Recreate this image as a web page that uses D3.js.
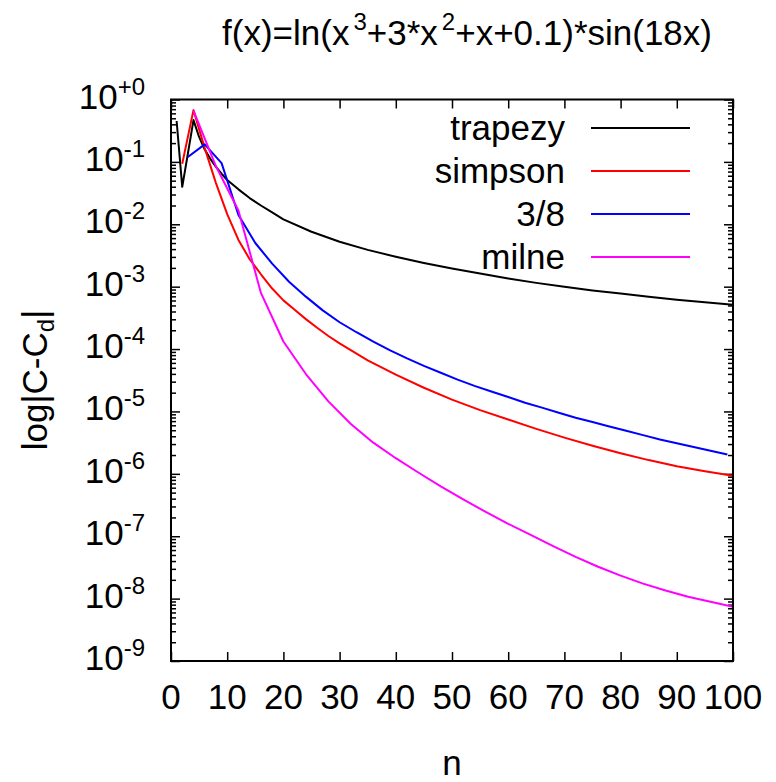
<!DOCTYPE html>
<html>
<head>
<meta charset="utf-8">
<script src="https://cdn.jsdelivr.net/npm/d3@7"></script>
<style>
  html, body { margin: 0; padding: 0; background: #fff; }
  svg { display: block; }
  text { font-family: "Liberation Sans", Arial, Helvetica, sans-serif; fill: #000; }
</style>
</head>
<body>
<div id="chart"></div>
<script>
// ---- data ----
const seriesNames = ["trapezy", "simpson", "3/8", "milne"];
const seriesColors = ["#000000", "#ff0000", "#0000ff", "#ff00ff"];

const trapezyN = [1,2,3,4,5,6,7,8,9,10,12,14,16,18,20,25,30,35,40,45,50,55,60,65,70,75,80,85,90,95,100];
const trapezyV = [0.452,0.0398,0.135,0.468,0.251,0.158,0.112,0.0832,0.0646,0.0513,0.0363,0.0263,0.0200,0.0155,0.0120,0.00759,0.00525,0.00389,0.00302,0.00240,0.00195,0.00162,0.00135,0.00115,0.00100,0.000871,0.000776,0.000692,0.000617,0.000562,0.000513];

const simpsonN = [2,4,6,8,10,12,14,16,18,20,22,24,26,28,30,35,40,45,50,55,60,65,70,75,80,85,90,95,100];
const simpsonV = [0.0933,0.676,0.166,0.0457,0.0145,0.00562,0.00275,0.00158,0.000933,0.000603,0.000427,0.000302,0.000219,0.000162,0.000123,6.61e-5,3.89e-5,2.40e-5,1.55e-5,1.05e-5,7.41e-6,5.25e-6,3.80e-6,2.82e-6,2.14e-6,1.66e-6,1.32e-6,1.10e-6,9.33e-7];

const threeEighthsN = [3,6,9,12,15,18,21,24,27,30,33,36,39,42,45,48,51,54,57,60,63,66,69,72,75,78,81,84,87,90,93,96,99];
const threeEighthsV = [0.120,0.191,0.0955,0.0141,0.00501,0.00234,0.00120,0.000692,0.000417,0.000269,0.000186,0.000132,9.55e-5,7.08e-5,5.37e-5,4.17e-5,3.24e-5,2.57e-5,2.09e-5,1.70e-5,1.38e-5,1.15e-5,9.55e-6,7.94e-6,6.76e-6,5.75e-6,4.90e-6,4.17e-6,3.55e-6,3.09e-6,2.69e-6,2.34e-6,2.04e-6];

const milneN = [4,8,12,16,20,24,28,32,36,40,44,48,52,56,60,64,68,72,76,80,84,88,92,96,100];
const milneV = [0.661,0.0851,0.0166,0.000794,0.000132,3.98e-5,1.45e-5,6.31e-6,3.16e-6,1.78e-6,1.05e-6,6.31e-7,3.89e-7,2.45e-7,1.58e-7,1.05e-7,6.92e-8,4.68e-8,3.24e-8,2.34e-8,1.74e-8,1.35e-8,1.07e-8,8.91e-9,7.41e-9];

const xTicks = [0,10,20,30,40,50,60,70,80,90,100];
const yExponents = [0,-1,-2,-3,-4,-5,-6,-7,-8,-9];
const yTickLabels = ["+0","-1","-2","-3","-4","-5","-6","-7","-8","-9"];
const titleParts = [["f(x)=ln(x",false],["3",true],["+3*x",false],["2",true],["+x+0.1)*sin(18x)",false]];
const xLabel = "n";

// ---- layout ----
const W = 776, H = 782;
const L = 171, R = 733, T = 99.5, B = 661;
const FONT = 35, SUP = 24;

const svg = d3.select("#chart").append("svg").attr("width", W).attr("height", H);

const x = d3.scaleLinear().domain([0, 100]).range([L, R]);
const y = d3.scaleLog().domain([1e-9, 1]).range([B, T]);

const majors = yExponents.map(e => Math.pow(10, e));
const minors = [];
for (let e = -9; e < 0; e++) for (let k = 2; k <= 9; k++) minors.push(k * Math.pow(10, e));

function styleAxis(g) {
  g.select(".domain").remove();
  g.selectAll("line").attr("stroke", "#000").attr("stroke-width", 1.5);
  g.selectAll("text").remove();
}

svg.append("g").attr("transform", `translate(0,${B})`)
  .call(d3.axisBottom(x).tickValues(xTicks).tickSize(-9).tickFormat("")).call(styleAxis);
svg.append("g").attr("transform", `translate(0,${T})`)
  .call(d3.axisTop(x).tickValues(xTicks).tickSize(-9).tickFormat("")).call(styleAxis);
svg.append("g").attr("transform", `translate(${L},0)`)
  .call(d3.axisLeft(y).tickValues(majors).tickSize(-9).tickFormat("")).call(styleAxis);
svg.append("g").attr("transform", `translate(${L},0)`)
  .call(d3.axisLeft(y).tickValues(minors).tickSize(-5).tickFormat("")).call(styleAxis);
svg.append("g").attr("transform", `translate(${R},0)`)
  .call(d3.axisRight(y).tickValues(majors).tickSize(-9).tickFormat("")).call(styleAxis);
svg.append("g").attr("transform", `translate(${R},0)`)
  .call(d3.axisRight(y).tickValues(minors).tickSize(-5).tickFormat("")).call(styleAxis);

// x tick labels
svg.append("g").selectAll("text").data(xTicks).join("text")
  .attr("x", d => x(d)).attr("y", 709)
  .attr("text-anchor", "middle").attr("font-size", FONT)
  .text(d => d);

// y tick labels
const yl = svg.append("g").selectAll("text").data(yExponents).join("text")
  .attr("x", 145).attr("y", d => y(Math.pow(10, d)) + 9)
  .attr("text-anchor", "end").attr("font-size", FONT);
yl.append("tspan").text("10");
yl.append("tspan").attr("font-size", SUP).attr("dy", -14).text((d, i) => yTickLabels[i]);

// series lines
const series = [
  [trapezyN, trapezyV],
  [simpsonN, simpsonV],
  [threeEighthsN, threeEighthsV],
  [milneN, milneV]
];
const line = d3.line().x(d => x(d[0])).y(d => y(d[1]));
svg.append("clipPath").attr("id", "clip")
  .append("rect").attr("x", L).attr("y", T).attr("width", R - L).attr("height", B - T);
series.forEach((s, i) => {
  const pts = s[0].map((n, j) => [n, s[1][j]]);
  svg.append("path").datum(pts)
    .attr("d", line).attr("fill", "none")
    .attr("stroke", seriesColors[i]).attr("stroke-width", 2)
    .attr("stroke-linejoin", "round")
    .attr("clip-path", "url(#clip)");
});

// frame
svg.append("rect").attr("x", L).attr("y", T).attr("width", R - L).attr("height", B - T)
  .attr("fill", "none").attr("stroke", "#000").attr("stroke-width", 2);

// legend
const legY = [128, 171, 214, 257];
seriesNames.forEach((name, i) => {
  svg.append("text").attr("x", 565).attr("y", legY[i] + 12)
    .attr("text-anchor", "end").attr("font-size", FONT).text(name);
  svg.append("line").attr("x1", 591).attr("x2", 690).attr("y1", legY[i]).attr("y2", legY[i])
    .attr("stroke", seriesColors[i]).attr("stroke-width", 2);
});

// title
const title = svg.append("text").attr("x", 712).attr("y", 45)
  .attr("text-anchor", "end").attr("font-size", FONT);
titleParts.forEach(([t, sup], i) => {
  const ts = title.append("tspan").text(t);
  if (sup) ts.attr("font-size", SUP).attr("dy", -15).attr("dx", 4);
  else if (i > 0 && titleParts[i - 1][1]) ts.attr("dy", 15);
});

// x label
svg.append("text").attr("x", (L + R) / 2).attr("y", 775)
  .attr("text-anchor", "middle").attr("font-size", FONT).text(xLabel);

// y label
const ylab = svg.append("text").attr("transform", "translate(47,380) rotate(-90)")
  .attr("text-anchor", "middle").attr("font-size", FONT);
ylab.append("tspan").text("log|C-C");
ylab.append("tspan").attr("font-size", SUP).attr("dy", 7).text("d");
ylab.append("tspan").attr("dy", -7).text("|");
</script>
</body>
</html>
